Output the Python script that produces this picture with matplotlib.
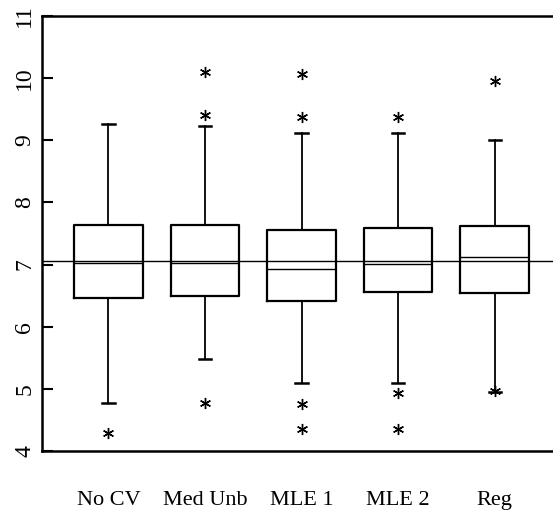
import matplotlib
matplotlib.use("Agg")
import matplotlib.pyplot as plt

# Box summary per estimator
labels = ["No CV", "Med Unb", "MLE 1", "MLE 2", "Reg"]
whislo = [4.77, 5.48, 5.09, 5.09, 4.95]
q1 = [6.47, 6.49, 6.41, 6.56, 6.54]
med = [7.02, 7.02, 6.93, 7.01, 7.12]
q3 = [7.63, 7.63, 7.55, 7.59, 7.62]
whishi = [9.27, 9.23, 9.12, 9.12, 9.00]
fliers = [
    [4.29],
    [10.10, 9.41, 4.77],
    [10.07, 9.37, 4.75, 4.35],
    [9.37, 4.93, 4.35],
    [9.95, 4.96],
]
ref_value = 7.05

plt.rcParams["font.family"] = ["Liberation Serif", "DejaVu Serif"]

fig = plt.figure(figsize=(5.53, 5.11), dpi=100)
ax = fig.add_axes([0.076, 0.1174, 0.934, 0.8513])

stats = []
for i in range(len(labels)):
    stats.append({
        "label": labels[i],
        "whislo": whislo[i],
        "q1": q1[i],
        "med": med[i],
        "q3": q3[i],
        "whishi": whishi[i],
        "fliers": fliers[i],
    })

positions = list(range(1, len(labels) + 1))
ax.bxp(
    stats,
    positions=positions,
    widths=0.71,
    capwidths=0.13,
    boxprops=dict(color="black", linewidth=1.6),
    whiskerprops=dict(color="black", linewidth=1.3),
    capprops=dict(color="black", linewidth=1.8),
    medianprops=dict(color="black", linewidth=1.0),
    flierprops=dict(marker=(6, 2, 0), markersize=8, markeredgecolor="black",
                    markeredgewidth=1.0, linestyle="none"),
)

# reference level across all boxes
ax.axhline(ref_value, color="black", linewidth=1.0)

ax.set_xlim(0.3125, 5.66)
ax.set_ylim(4, 11)
ax.set_yticks([4, 5, 6, 7, 8, 9, 10, 11])
ax.set_xticks(positions)
ax.set_xticklabels(labels, fontsize=16)

ax.spines["right"].set_visible(False)
for side in ["left", "top", "bottom"]:
    ax.spines[side].set_linewidth(1.8)

ax.tick_params(axis="y", direction="in", length=8, width=1.5, pad=5,
               labelsize=17, labelrotation=90)
ax.tick_params(axis="x", length=0, pad=29)
for t in ax.get_yticklabels():
    t.set_verticalalignment("center")

fig.savefig("out.png", dpi=100)
